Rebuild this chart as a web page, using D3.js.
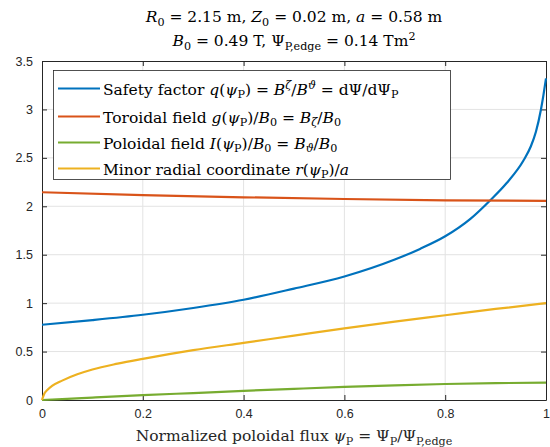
<!DOCTYPE html>
<html><head><meta charset="utf-8">
<script src="https://cdn.jsdelivr.net/npm/d3@7"></script>
<style>body{margin:0;background:#fff}svg{display:block}</style>
</head><body>
<script>
// ---- data ----
const xTicks = [0, 0.2, 0.4, 0.6, 0.8, 1];
const yTicks = [0, 0.5, 1, 1.5, 2, 2.5, 3, 3.5];
const tickLabelsX = ["0", "0.2", "0.4", "0.6", "0.8", "1"];
const tickLabelsY = ["0", "0.5", "1", "1.5", "2", "2.5", "3", "3.5"];

const qPsi = [0, 0.1, 0.2, 0.3, 0.4, 0.5, 0.6, 0.7, 0.75, 0.8, 0.85, 0.889, 0.922, 0.955, 0.97, 0.98, 0.99, 0.995, 1.0];
const qVal = [0.777, 0.825, 0.88, 0.95, 1.035, 1.15, 1.275, 1.45, 1.56, 1.69, 1.87, 2.06, 2.24, 2.47, 2.62, 2.77, 3.0, 3.15, 3.32];

const gPsi = [0, 0.2, 0.4, 0.6, 0.8, 1.0];
const gVal = [2.145, 2.116, 2.093, 2.075, 2.062, 2.055];

const iPsi = [0, 0.05, 0.1, 0.2, 0.3, 0.4, 0.5, 0.6, 0.7, 0.8, 0.9, 1.0];
const iVal = [0, 0.012, 0.025, 0.05, 0.072, 0.094, 0.115, 0.135, 0.152, 0.165, 0.174, 0.18];

const rPsi = [0, 0.005, 0.01, 0.02, 0.04, 0.07, 0.1, 0.15, 0.2, 0.3, 0.4, 0.5, 0.6, 0.7, 0.8, 0.9, 1.0];
const rVal = [0, 0.07, 0.1, 0.145, 0.2, 0.265, 0.315, 0.375, 0.425, 0.515, 0.59, 0.665, 0.74, 0.81, 0.875, 0.94, 1.0];

const colors = ["#0072BD", "#D95319", "#77AC30", "#EDB120"];

// ---- layout ----
const W = 550, H = 447;
const m = {left: 42, right: 4, top: 61, bottom: 47};
const svg = d3.select("body").append("svg").attr("width", W).attr("height", H);
const x = d3.scaleLinear().domain([0, 1]).range([m.left, W - m.right]);
const y = d3.scaleLinear().domain([0, 3.5]).range([H - m.bottom, m.top]);
const axisColor = "#262626";
const serif = "DejaVu Serif, Liberation Serif, serif";

// grid
const grid = svg.append("g");
grid.selectAll(".gx").data(xTicks.slice(1, -1)).join("line")
  .attr("x1", d => x(d)).attr("x2", d => x(d)).attr("y1", y(0)).attr("y2", y(3.5))
  .attr("stroke", "#e3e3e3").attr("stroke-width", 1);
grid.selectAll(".gy").data(yTicks.slice(1, -1)).join("line")
  .attr("y1", d => y(d)).attr("y2", d => y(d)).attr("x1", x(0)).attr("x2", x(1))
  .attr("stroke", "#e3e3e3").attr("stroke-width", 1);

// axes
const fmtX = (d, i) => tickLabelsX[i];
const fmtY = (d, i) => tickLabelsY[i];
function styleAxis(g) {
  g.selectAll("path").attr("stroke", axisColor);
  g.selectAll("line").attr("stroke", axisColor);
  g.selectAll("text").attr("fill", axisColor).style("font-family", "Liberation Sans, Arial, sans-serif").style("font-size", "12.5px");
}
svg.append("g").attr("transform", `translate(0,${y(0)})`)
  .call(d3.axisBottom(x).tickValues(xTicks).tickFormat(fmtX).tickSizeInner(-5).tickSizeOuter(0).tickPadding(9))
  .call(styleAxis);
svg.append("g").attr("transform", `translate(${x(0)},0)`)
  .call(d3.axisLeft(y).tickValues(yTicks).tickFormat(fmtY).tickSizeInner(-5).tickSizeOuter(0).tickPadding(9))
  .call(styleAxis);
svg.append("g").attr("transform", `translate(0,${y(3.5)})`)
  .call(d3.axisTop(x).tickValues(xTicks).tickFormat("").tickSizeInner(-5).tickSizeOuter(0))
  .call(styleAxis);
svg.append("g").attr("transform", `translate(${x(1)},0)`)
  .call(d3.axisRight(y).tickValues(yTicks).tickFormat("").tickSizeInner(-5).tickSizeOuter(0))
  .call(styleAxis);

// lines
const series = [[qPsi, qVal], [gPsi, gVal], [iPsi, iVal], [rPsi, rVal]];
const line = d3.line().x(d => x(d[0])).y(d => y(d[1])).curve(d3.curveMonotoneX);
series.forEach((s, k) => {
  const pts = s[0].map((p, i) => [p, s[1][i]]);
  svg.append("path").datum(pts).attr("d", line).attr("fill", "none")
    .attr("stroke", colors[k]).attr("stroke-width", 2.2);
});

// math text helper: parts = [text, italic, shift] shift: 0 base, 1 sup, -1 sub
function mathText(sel, parts, fs) {
  let cur = 0;
  parts.forEach(([t, it, s]) => {
    const off = s === 1 ? -0.38 * fs : s === -1 ? 0.25 * fs : 0;
    sel.append("tspan").text(t).attr("dy", off - cur)
      .style("font-style", it ? "italic" : "normal")
      .style("font-size", (s ? 0.72 * fs : fs) + "px");
    cur = off;
  });
}

// title
const fsT = 15.5;
const t1 = svg.append("text").attr("x", 294).attr("y", 22).attr("text-anchor", "middle")
  .style("font-family", serif).style("font-size", fsT + "px").attr("fill", "#000");
mathText(t1, [["R", 1, 0], ["0", 0, -1], [" = 2.15 m, ", 0, 0], ["Z", 1, 0], ["0", 0, -1], [" = 0.02 m, ", 0, 0], ["a", 1, 0], [" = 0.58 m", 0, 0]], fsT);
const t2 = svg.append("text").attr("x", 294).attr("y", 46).attr("text-anchor", "middle")
  .style("font-family", serif).style("font-size", fsT + "px").attr("fill", "#000");
mathText(t2, [["B", 1, 0], ["0", 0, -1], [" = 0.49 T, Ψ", 0, 0], ["P,edge", 0, -1], [" = 0.14 Tm", 0, 0], ["2", 0, 1]], fsT);

// x label
const xl = svg.append("text").attr("x", 294).attr("y", 441).attr("text-anchor", "middle")
  .style("font-family", serif).style("font-size", fsT + "px").attr("fill", "#262626");
mathText(xl, [["Normalized poloidal flux ", 0, 0], ["ψ", 1, 0], ["P", 0, -1], [" = Ψ", 0, 0], ["P", 0, -1], ["/Ψ", 0, 0], ["P,edge", 0, -1]], fsT);

// legend
const lg = svg.append("g");
lg.append("rect").attr("x", 53.5).attr("y", 70.5).attr("width", 397).attr("height", 109)
  .attr("fill", "#fff").attr("stroke", axisColor).attr("stroke-width", 0.8);
const legendItems = [
  [["Safety factor ", 0, 0], ["q", 1, 0], ["(", 0, 0], ["ψ", 1, 0], ["P", 0, -1], [") = ", 0, 0], ["B", 1, 0], ["ζ", 1, 1], ["/", 0, 0], ["B", 1, 0], ["ϑ", 1, 1], [" = dΨ/dΨ", 0, 0], ["P", 0, -1]],
  [["Toroidal field ", 0, 0], ["g", 1, 0], ["(", 0, 0], ["ψ", 1, 0], ["P", 0, -1], [")/", 0, 0], ["B", 1, 0], ["0", 0, -1], [" = ", 0, 0], ["B", 1, 0], ["ζ", 1, -1], ["/", 0, 0], ["B", 1, 0], ["0", 0, -1]],
  [["Poloidal field ", 0, 0], ["I", 1, 0], ["(", 0, 0], ["ψ", 1, 0], ["P", 0, -1], [")/", 0, 0], ["B", 1, 0], ["0", 0, -1], [" = ", 0, 0], ["B", 1, 0], ["ϑ", 1, -1], ["/", 0, 0], ["B", 1, 0], ["0", 0, -1]],
  [["Minor radial coordinate ", 0, 0], ["r", 1, 0], ["(", 0, 0], ["ψ", 1, 0], ["P", 0, -1], [")/", 0, 0], ["a", 1, 0]]
];
const rowY = [88.5, 116.5, 142.5, 168.5];
legendItems.forEach((parts, k) => {
  lg.append("line").attr("x1", 58).attr("x2", 100).attr("y1", rowY[k]).attr("y2", rowY[k])
    .attr("stroke", colors[k]).attr("stroke-width", 2.2);
  const tx = lg.append("text").attr("x", 103).attr("y", rowY[k] + 6)
    .style("font-family", serif).style("font-size", fsT + "px").attr("fill", "#000");
  mathText(tx, parts, fsT);
});
</script>
</body></html>
